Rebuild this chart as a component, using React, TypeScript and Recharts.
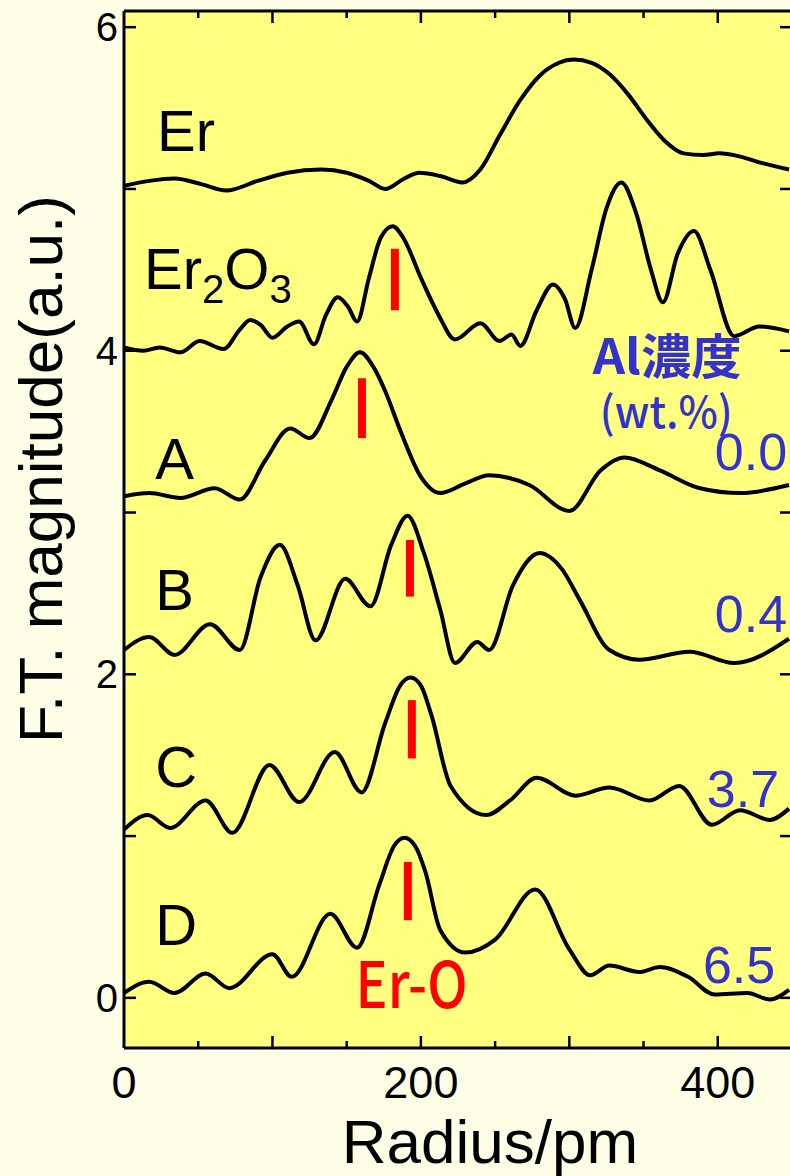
import React from 'react';
import { LineChart, Line, XAxis, YAxis, CartesianGrid, ReferenceLine, ReferenceDot } from 'recharts';

// ---- data (x in pm, y in a.u. including vertical offset) ----
const erCurve: [number, number][] = [
  [0, 5.02], [17, 5.05], [34, 5.065], [52, 5.03], [69, 4.99], [90, 5.05], [110, 5.1], [133, 5.12],
  [150, 5.1], [165, 5.05], [176, 5.0], [188, 5.06], [199, 5.1], [213, 5.08], [228, 5.04], [240, 5.12],
  [253, 5.33], [267, 5.55], [280, 5.7], [293, 5.78], [303, 5.8], [315, 5.78], [327, 5.71], [340, 5.58],
  [352, 5.43], [364, 5.3], [377, 5.22], [390, 5.21], [401, 5.22], [415, 5.2], [430, 5.16], [448, 5.12],
];
const er2o3Curve: [number, number][] = [
  [0, 4.02], [13, 4.0], [24, 4.02], [38, 3.99], [51, 4.06], [67, 4.01], [78, 4.13], [85, 4.19],
  [92, 4.16], [100, 4.08], [110, 4.15], [118, 4.18], [128, 4.04], [136, 4.22], [144, 4.33], [151, 4.27],
  [157, 4.18], [165, 4.45], [173, 4.7], [181, 4.77], [188, 4.7], [200, 4.45], [212, 4.22], [223, 4.07],
  [240, 4.17], [253, 4.06], [261, 4.1], [267, 4.03], [278, 4.25], [289, 4.41], [297, 4.32], [304, 4.14],
  [315, 4.5], [325, 4.88], [335, 5.04], [345, 4.85], [355, 4.5], [363, 4.3], [373, 4.6], [384, 4.74],
  [395, 4.5], [411, 4.09], [428, 4.15], [448, 4.12],
];
const sampleA: [number, number][] = [
  [0, 3.1], [17, 3.12], [38, 3.09], [61, 3.15], [78, 3.08], [95, 3.32], [112, 3.52], [125, 3.46],
  [140, 3.7], [150, 3.9], [159, 3.99], [168, 3.9], [176, 3.75], [186, 3.51], [200, 3.22], [213, 3.12], [230, 3.18], [246, 3.23],
  [273, 3.17], [300, 3.01], [321, 3.26], [337, 3.34], [361, 3.26], [388, 3.15], [415, 3.12], [448, 3.17],
];
const sampleB: [number, number][] = [
  [0, 2.15], [17, 2.23], [34, 2.12], [58, 2.31], [78, 2.15], [92, 2.6], [105, 2.8], [117, 2.55],
  [129, 2.21], [149, 2.59], [166, 2.42], [180, 2.8], [191, 2.98], [202, 2.75], [213, 2.4], [223, 2.07],
  [238, 2.2], [246, 2.15], [262, 2.55], [280, 2.75], [295, 2.65], [307, 2.46], [327, 2.15], [347, 2.09],
  [381, 2.14], [411, 2.07], [448, 2.22],
];
const sampleC: [number, number][] = [
  [0, 1.04], [16, 1.13], [31, 1.05], [55, 1.22], [73, 1.02], [98, 1.44], [118, 1.21], [142, 1.52],
  [160, 1.27], [176, 1.7], [186, 1.93], [193, 1.98], [200, 1.93], [207, 1.75], [220, 1.31], [244, 1.13], [260, 1.22], [278, 1.36],
  [304, 1.25], [327, 1.3], [354, 1.22], [374, 1.31], [396, 1.07], [415, 1.16], [435, 1.1], [448, 1.17],
];
const sampleD: [number, number][] = [
  [0, 0.03], [17, 0.1], [34, 0.03], [55, 0.15], [71, 0.06], [100, 0.27], [113, 0.13], [139, 0.52],
  [157, 0.31], [172, 0.7], [182, 0.94], [189, 0.99], [196, 0.94], [203, 0.78], [213, 0.42], [230, 0.28], [250, 0.36], [277, 0.67],
  [300, 0.3], [314, 0.14], [327, 0.2], [347, 0.16], [361, 0.19], [380, 0.13], [398, 0.02], [420, 0.03],
  [435, -0.01], [448, 0.05],
];
const curves = [erCurve, er2o3Curve, sampleA, sampleB, sampleC, sampleD];

// red "I" markers: [x, yBottom, yTop]
const markers: [number, number, number][] = [
  [182.5, 4.25, 4.63], [160.3, 3.46, 3.83], [192.6, 2.48, 2.83], [193.9, 1.48, 1.84], [191.2, 0.48, 0.84],
];

// text labels
const seriesNames = ['Er', 'Er2O3', 'A', 'B', 'C', 'D'];
const seriesNameX = [22.2, 13.5, 21, 21, 21, 21];
const seriesNameY = [5.235, 4.383, 3.21, 2.395, 1.302, 0.327];
const alValues = ['0.0', '0.4', '3.7', '6.5'];
const alValueX = [398, 398, 392.6, 390];
const alValueY = [3.26, 2.26, 1.18, 0.093];

const xTicks = [0, 50, 100, 150, 200, 250, 300, 350, 400, 450];
const xLabelTicks = [0, 200, 400];
const yTicks = [0, 1, 2, 3, 4, 5, 6];
const yLabelTicks = [0, 2, 4, 6];

const X_DOMAIN: [number, number] = [0, 450];
const Y_DOMAIN: [number, number] = [-0.31, 6.1];

const SANS = '"Liberation Sans", Arial, sans-serif';
const CJK = '"Noto Sans CJK JP", "Noto Sans", sans-serif';
const BLUE = '#3333CC';
const RED = '#FF0000';

const BottomTick = (props: any) => {
  const { x, y, payload } = props;
  const v = payload.value;
  const major = v % 100 === 0;
  return (
    <g>
      {v > 0 && v < 450 && <line x1={x} x2={x} y1={y} y2={y - (major ? 12 : 7)} stroke="#000" strokeWidth={2.5} />}
      {xLabelTicks.includes(v) && (
        <text x={x} y={y + 50} textAnchor="middle" fontSize={45} fontFamily={SANS} fill="#000">{v}</text>
      )}
    </g>
  );
};

const TopTick = (props: any) => {
  const { x, y, payload } = props;
  const v = payload.value;
  const major = v % 100 === 0;
  if (v <= 0 || v >= 450) return <g />;
  return <line x1={x} x2={x} y1={y} y2={y + (major ? 12 : 7)} stroke="#000" strokeWidth={2.5} />;
};

const LeftTick = (props: any) => {
  const { x, y, payload } = props;
  const v = payload.value;
  return (
    <g>
      <line x1={x} x2={x + 12} y1={y} y2={y} stroke="#000" strokeWidth={2.5} />
      {yLabelTicks.includes(v) && (
        <text x={x - 6} y={y + 14} textAnchor="end" fontSize={40} fontFamily={SANS} fill="#000">{v}</text>
      )}
    </g>
  );
};

const RightTick = (props: any) => {
  const { x, y } = props;
  return <line x1={x} x2={x - 12} y1={y} y2={y} stroke="#000" strokeWidth={2.5} />;
};

const seriesLabel = (name: string) => (p: any) => {
  const vb = p.viewBox || {};
  const x = vb.x + (vb.width || 0) / 2;
  const y = vb.y + (vb.height || 0) / 2;
  if (name === 'Er2O3') {
    return (
      <text x={x} y={y} fontSize={58} fontFamily={SANS} fill="#000">
        Er<tspan fontSize={40} dy={14}>2</tspan><tspan dy={-14}>O</tspan><tspan fontSize={40} dy={14}>3</tspan>
      </text>
    );
  }
  return <text x={x} y={y} fontSize={58} fontFamily={SANS} fill="#000">{name}</text>;
};

const simpleLabel = (text: string, style: any) => (p: any) => {
  const vb = p.viewBox || {};
  const x = vb.x + (vb.width || 0) / 2;
  const y = vb.y + (vb.height || 0) / 2;
  return <text x={x} y={y} {...style}>{text}</text>;
};

export default function App() {
  return (
    <div style={{ position: 'absolute', left: 0, top: 0, width: 790, height: 1176, overflow: 'hidden', background: '#FFFFE8' }}>
      <LineChart width={800} height={1176} margin={{ top: 10, right: 7, bottom: 127, left: 123 }}>
        <CartesianGrid horizontal={false} vertical={false} fill="#FFFF80" stroke="none" />
        <XAxis dataKey="x" type="number" domain={X_DOMAIN} allowDataOverflow ticks={xTicks} interval={0}
          height={1} tickSize={0} tickMargin={0} tickLine={false} tick={BottomTick}
          axisLine={{ stroke: '#000', strokeWidth: 3 }} />
        <XAxis xAxisId="top" orientation="top" dataKey="x" type="number" domain={X_DOMAIN} allowDataOverflow ticks={xTicks} interval={0}
          height={1} tickSize={0} tickMargin={0} tickLine={false} tick={TopTick}
          axisLine={{ stroke: '#000', strokeWidth: 3 }} />
        <YAxis type="number" domain={Y_DOMAIN} allowDataOverflow ticks={yTicks} interval={0}
          width={1} tickSize={0} tickMargin={0} tickLine={false} tick={LeftTick}
          axisLine={{ stroke: '#000', strokeWidth: 3 }} />
        <YAxis yAxisId="right" orientation="right" type="number" domain={Y_DOMAIN} allowDataOverflow ticks={yTicks} interval={0}
          width={1} tickSize={0} tickMargin={0} tickLine={false} tick={RightTick}
          axisLine={{ stroke: '#000', strokeWidth: 3 }} />
        {curves.map((c, i) => (
          <Line key={i} data={c.map(([x, y]) => ({ x, y }))} dataKey="y" type="monotone"
            stroke="#000" strokeWidth={4} dot={false} activeDot={false} isAnimationActive={false} />
        ))}
        {markers.map(([x, y0, y1], i) => (
          <ReferenceLine key={'m' + i} segment={[{ x, y: y0 }, { x, y: y1 }]} stroke={RED} strokeWidth={8} />
        ))}
        {seriesNames.map((n, i) => (
          <ReferenceDot key={'s' + i} x={seriesNameX[i]} y={seriesNameY[i]} r={0} fill="none" stroke="none"
            label={seriesLabel(n)} />
        ))}
        {alValues.map((t, i) => (
          <ReferenceDot key={'a' + i} x={alValueX[i]} y={alValueY[i]} r={0} fill="none" stroke="none"
            label={simpleLabel(t, { fontSize: 52, fontFamily: SANS, fill: BLUE })} />
        ))}
        <ReferenceDot x={315.8} y={3.858} r={0} fill="none" stroke="none"
          label={simpleLabel('Al濃度', { fontSize: 48, fontFamily: CJK, fontWeight: 700, fill: BLUE, textLength: 149, lengthAdjust: 'spacingAndGlyphs' })} />
        <ReferenceDot x={320.5} y={3.52} r={0} fill="none" stroke="none"
          label={simpleLabel('(wt.%)', { fontSize: 44, fontFamily: CJK, fontWeight: 500, fill: BLUE, textLength: 133, lengthAdjust: 'spacingAndGlyphs' })} />
        <ReferenceDot x={156} y={-0.06} r={0} fill="none" stroke="none"
          label={simpleLabel('Er-O', { fontSize: 64, fontFamily: CJK, fontWeight: 500, fill: RED, textLength: 112, lengthAdjust: 'spacingAndGlyphs' })} />
        <text x={490} y={1163} textAnchor="middle" fontSize={62} fontFamily={SANS} fill="#000">Radius/pm</text>
        <text x={62} y={469} transform="rotate(-90 62 469)" textAnchor="middle" fontSize={62} fontFamily={SANS} fill="#000">F.T. magnitude(a.u.)</text>
      </LineChart>
    </div>
  );
}
